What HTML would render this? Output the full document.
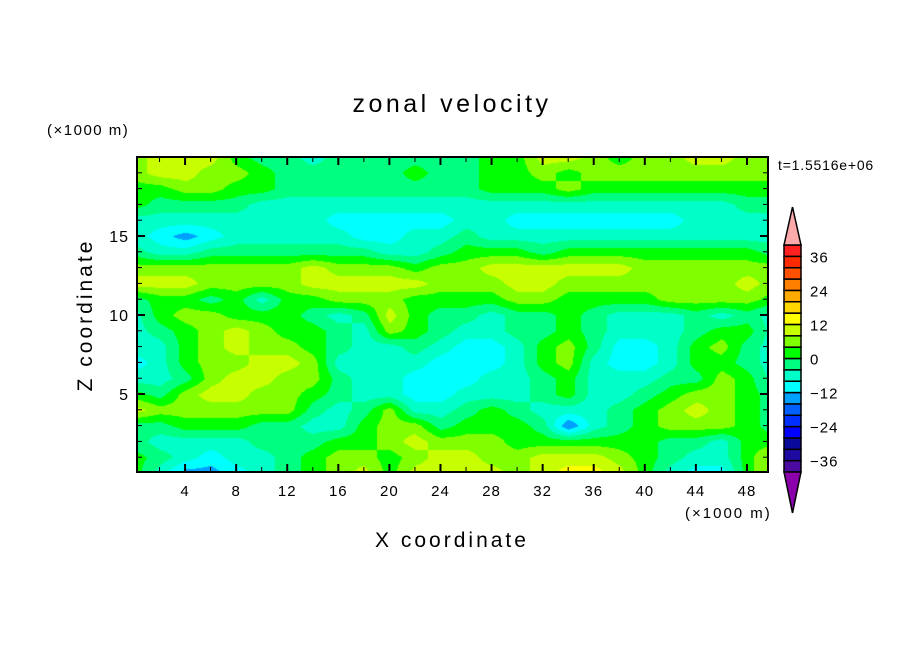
<!DOCTYPE html>
<html><head><meta charset="utf-8"><style>
body{margin:0;background:#fff;width:904px;height:654px;overflow:hidden;position:relative;font-family:"Liberation Sans","DejaVu Sans",sans-serif}
#plot{position:absolute;left:137px;top:157px}
svg{position:absolute;left:0;top:0}
</style></head><body>
<canvas id="plot" width="631" height="315"></canvas>
<svg id="ov" width="904" height="654"></svg>
<script>
// grid coordinates (x1000 m)
const xCoords = [0,2,4,6,8,10,12,14,16,18,20,22,24,26,28,30,32,34,36,38,40,42,44,46,48,50];
const zCoords = [20,19,18,17,16,15,14,13,12,11,10,9,8,7,6,5,4,3,2,1,0];
// zonal velocity field, one row per z level (top to bottom)
const field = [
[6,10,10,10,2,-2,-2,-6,-2,-2,-2,-2,-2, -2,2,2,10,10,6,2,6,6,10,10,6,6],
[6,10,10,6,6,2,-2,-2,-2,-2,-2,2,-2, -2,2,2,6,2,6,6,6,6,6,6,6,6],
[2,2,6,6,2,2,-2,-2,-2,-2,-2,-2,-2, -2,2,2,2,6,2,2,2,2,2,2,2,2],
[2,-2,-2,-2,-2,-6,-6,-6,-6,-6,-6,-6,-6, -6,-6,-6,-6,-6,-6,-6,-6,-6,-6,-6,-2,-2],
[-6,-6,-6,-6,-6,-6,-6,-6,-10,-10,-10,-10,-10, -6,-6,-10,-10,-10,-10,-10,-10,-10,-6,-6,-6,-6],
[-6,-10,-14,-10,-6,-6,-6,-6,-6,-10,-10,-6,-6, -2,-6,-6,-6,-6,-6,-6,-6,-6,-6,-6,-6,-6],
[-2,-6,-6,-2,-2,-2,-2,-2,-2,-2,-6,-6,-2, 2,2,2,-2,2,2,2,2,2,2,2,2,-2],
[6,6,6,6,6,6,6,10,6,6,6,2,6, 6,10,10,10,10,10,10,6,6,6,6,6,6],
[10,10,10,6,6,6,6,10,10,10,10,10,6, 6,6,10,10,6,6,6,6,6,6,6,10,6],
[-2,2,2,-2,2,-6,2,2,6,6,6,2,2, 2,2,6,6,2,2,2,2,6,6,6,6,2],
[-6,2,6,6,2,2,2,-2,-6,-2,10,2,-2, -2,-6,-2,-2,2,-2,-6,-6,-6,-2,-6,-2,-6],
[-6,-2,2,6,10,6,2,2,-2,-6,6,2,-2, -6,-6,-2,-2,2,-2,-6,-6,-6,-2,2,2,-6],
[-6,-6,2,6,10,6,6,2,-2,-6,-6,-2,-6, -10,-10,-6,2,6,-2,-10,-10,-6,2,6,-2,-6],
[-10,-6,2,6,6,10,10,6,-6,-6,-6,-6,-10, -10,-10,-6,2,6,-6,-10,-10,-6,2,2,-2,-6],
[-6,-6,-2,6,10,10,6,6,-2,-6,-6,-10,-10, -10,-6,-6,-2,2,-6,-6,-6,-2,-2,6,2,-6],
[2,-2,6,10,10,6,6,2,-2,-6,-6,-10,-10, -6,-6,-6,-2,2,-6,-6,-2,2,6,6,2,-2],
[10,6,6,6,6,6,6,-2,-6,-2,6,-6,-6, -2,2,-2,-6,-6,-6,-2,2,6,10,6,2,-2],
[-2,-2,2,2,2,-2,-2,-6,-6,2,6,6,-2, 2,2,2,-2,-16,-6,-2,2,6,6,6,2,-2],
[-2,-6,-6,-6,-6,-2,-2,-2,2,2,6,10,6, 6,6,2,2,2,2,2,2,-2,-2,-6,2,2],
[2,-2,-6,-10,-6,-6,-2,2,6,6,2,6,10, 10,6,6,10,10,10,6,2,-2,-6,-6,2,10],
[2,-6,-14,-14,-10,-6,-2,2,6,10,2,10,10, 10,10,6,10,14,14,10,2,-6,-10,-10,2,10]
];
// colour bar levels
const levels = [-40,-36,-32,-28,-24,-20,-16,-12,-8,-4,0,4,8,12,16,20,24,28,32,36,40];
const bandColors = ["#4b0aa0","#1e0aa0","#0a0a9a","#0000ff","#0030ff","#0060ff","#00a0ff","#00ffff","#00ffc8","#00ff80","#00ff00","#80ff00","#c8ff00","#ffff00","#ffd700","#ffaa00","#ff8000","#ff5000","#ff2a00","#ff2020"];
const cbTicks = [-36,-24,-12,0,12,24,36];
const xTicks = [4,8,12,16,20,24,28,32,36,40,44,48];
const zTicks = [5,10,15];

// axes
const PX0=137,PX1=768,PY0=157,PY1=472;
const xPix = x => 134 + 12.77*x;
const zPix = z => 473 - 15.8*z;
const cbY = v => 472 - (v+40)/80*227;

function colorFor(v){
  let i=Math.floor((v+40)/4); i=Math.max(0,Math.min(19,i)); return bandColors[i];
}
function hexRGB(h){return [parseInt(h.substr(1,2),16),parseInt(h.substr(3,2),16),parseInt(h.substr(5,2),16)];}
function sample(x,z){
  let fx=(x-xCoords[0])/(xCoords[1]-xCoords[0]); fx=Math.max(0,Math.min(xCoords.length-1.0001,fx));
  let fz=(zCoords[0]-z)/(zCoords[0]-zCoords[1]); fz=Math.max(0,Math.min(zCoords.length-1.0001,fz));
  const i=Math.floor(fx),j=Math.floor(fz),a=fx-i,b=fz-j;
  return field[j][i]*(1-a)*(1-b)+field[j][i+1]*a*(1-b)+field[j+1][i]*(1-a)*b+field[j+1][i+1]*a*b;
}
const cv=document.getElementById('plot'),ctx=cv.getContext('2d');
const img=ctx.createImageData(631,315);
for(let py=0;py<315;py++){for(let px=0;px<631;px++){
  const x=(px+PX0-134)/12.77, z=(473-(py+PY0))/15.8;
  const c=hexRGB(colorFor(sample(x,z)));const k=(py*631+px)*4;
  img.data[k]=c[0];img.data[k+1]=c[1];img.data[k+2]=c[2];img.data[k+3]=255;}}
ctx.putImageData(img,0,0);

const NS="http://www.w3.org/2000/svg",svg=document.getElementById('ov');
function el(t,a,p){const e=document.createElementNS(NS,t);for(const k in a)e.setAttribute(k,a[k]);(p||svg).appendChild(e);return e;}
function txt(s,x,y,size,anchor,name,extra){const e=el('text',Object.assign({x:x,y:y,'font-size':size,'text-anchor':anchor||'start',fill:'#000','font-family':'"Liberation Sans",sans-serif'},extra||{}));e.textContent=s;


return e;}

const fr=el('rect',{x:PX0,y:PY0,width:PX1-PX0,height:PY1-PY0,fill:'none',stroke:'#000','stroke-width':2});


for(let x=2;x<50;x+=2){const L=(x%4===0)?8:5,X=xPix(x);
  const t1=el('line',{x1:X,y1:PY1,x2:X,y2:PY1-L,stroke:'#000','stroke-width':x%4===0?2:1});
  
  
  const t2=el('line',{x1:X,y1:PY0,x2:X,y2:PY0+L,stroke:'#000','stroke-width':x%4===0?2:1});
  
  }
for(let z=1;z<20;z++){const L=(z%5===0)?8:5,Y=zPix(z);
  const t1=el('line',{x1:PX0,y1:Y,x2:PX0+L,y2:Y,stroke:'#000','stroke-width':z%5===0?2:1});
  
  
  const t2=el('line',{x1:PX1,y1:Y,x2:PX1-L,y2:Y,stroke:'#000','stroke-width':z%5===0?2:1});
  
  }
xTicks.forEach(x=>txt(String(x),xPix(x),496,15,'middle','x-tick-label',{'letter-spacing':'1'}));
zTicks.forEach(z=>txt(String(z),129,zPix(z)+6,16,'end','z-tick-label',{'letter-spacing':'1'}));

txt('zonal velocity',452,112,25,'middle','chart-title',{'letter-spacing':'3.5'});
txt('(\u00d71000 m)',47,135,15,'start','z-unit-label',{'letter-spacing':'1.5'});
txt('(\u00d71000 m)',685,518,15,'start','x-unit-label',{'letter-spacing':'2'});
txt('X coordinate',452,547,21,'middle','x-axis-title',{'letter-spacing':'3'});
txt('Z coordinate',0,0,21,'middle','z-axis-title',{transform:'translate(92,315) rotate(-90)','letter-spacing':'3'});
txt('t=1.5516e+06',778,170,14,'start','time-label',{'letter-spacing':'0.8'});

for(let i=0;i<20;i++){const y0=cbY(levels[i+1]),y1=cbY(levels[i]);
  const r=el('rect',{x:784,y:y0,width:17,height:y1-y0,fill:bandColors[i],stroke:'#000','stroke-width':1.5});
  
  }
const up=el('polygon',{points:'784,245 801,245 792.5,207',fill:'#ffaaaa',stroke:'#000','stroke-width':1.5});


const dn=el('polygon',{points:'784,472 801,472 792.5,513',fill:'#8a00aa',stroke:'#000','stroke-width':1.5});


cbTicks.forEach(v=>txt(v<0?'\u2212'+(-v):String(v),810,cbY(v)+6,15,'start','colorbar-label',{'letter-spacing':'1'}));
</script>
</body></html>
